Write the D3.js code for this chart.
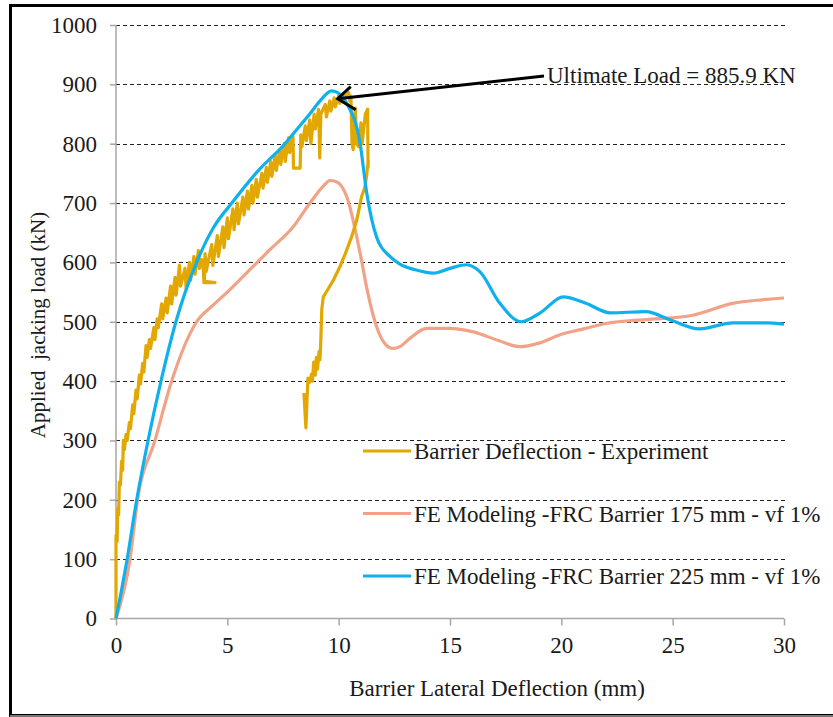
<!DOCTYPE html>
<html><head><meta charset="utf-8">
<script src="https://cdn.jsdelivr.net/npm/d3@7/dist/d3.min.js"></script>
<style>body{margin:0;background:#fff}svg{display:block}svg text{font-family:'Liberation Serif','Times New Roman',Times,'DejaVu Serif',serif !important;fill:#1a1a1a}</style>
</head><body>
<script>
// ---- data ----
const xTicks = [0,5,10,15,20,25,30];
const yTicks = [0,100,200,300,400,500,600,700,800,900,1000];
const seriesNames = ["Barrier Deflection - Experiment","FE Modeling -FRC Barrier 175 mm - vf 1%","FE Modeling -FRC Barrier 225 mm - vf 1%"];
const annotationText = "Ultimate Load = 885.9 KN";
const ultimate = [10.45, 886];
const expX = [0,0,0.05,0.08,0.12,0.15,0.2,0.25,0.3,0.33,0.38,0.45,0.5,0.6,0.65,0.75,0.8,0.9,0.95,1.05,1.1,1.2,1.25,1.35,1.4,1.5,1.55,1.7,1.75,1.85,1.9,2.05,2.1,2.25,2.3,2.45,2.5,2.65,2.7,2.85,2.9,3.0,3.1,3.15,3.3,3.35,3.5,3.55,3.7,3.75,3.85,3.9,3.95,4.45,3.97,4.0,4.05,4.3,4.35,4.55,4.6,4.8,4.85,5.0,5.05,5.25,5.3,5.45,5.5,5.7,5.75,5.9,5.95,6.1,6.15,6.3,6.35,6.55,6.6,6.75,6.8,6.95,7.0,7.15,7.2,7.35,7.4,7.55,7.6,7.75,7.8,7.95,7.97,8.27,8.3,8.35,8.5,8.55,8.7,8.75,8.9,8.95,9.1,9.15,9.2,9.4,9.45,9.6,9.65,9.8,9.85,10.0,10.05,10.2,10.3,10.45,10.5,10.55,10.6,10.65,10.75,10.8,10.9,11.0,11.05,11.2,11.3,11.32,11.33,11.25,11.18,11.03,10.81,10.58,10.3,10.06,9.76,9.46,9.31,9.24,9.2,9.16,9.12,9.05,9.0,8.95,8.88,8.82,8.78,8.7,8.62,8.58,8.53,8.5,8.44];
const expY = [0,140,130,185,175,230,225,265,250,300,285,310,300,330,320,360,345,385,370,410,395,430,415,460,440,470,455,490,470,505,490,530,505,540,515,560,530,575,545,595,560,575,590,555,600,570,610,580,620,590,605,600,566,566,568,615,585,630,595,645,610,660,625,675,640,690,655,700,665,710,680,720,690,730,700,740,710,750,725,760,735,770,745,780,755,790,765,800,770,810,785,812,759,759,815,795,830,805,840,800,850,825,858,776,850,866,845,872,855,877,862,881,868,884,878,886,872,880,800,790,860,800,795,835,800,850,858,760,772,745,727,711,671,643,615,593,570,551,542,520,470,436,450,420,440,410,432,400,412,398,405,370,321,340,380];
const fe175X = [0,0.63,0.97,1.75,2.5,3.62,4.36,5.0,5.7,6.9,7.96,8.71,9.3,9.61,9.9,10.36,10.96,11.3,11.7,12.1,12.45,12.75,13.2,13.95,15.0,16.05,17.2,18.14,19.0,19.94,21.0,22.0,23.96,25.9,27.7,29.0,30];
const fe175Y = [0,100,200,300,400,500,528,550,576,621,660,700,728,738,736,711,616,550,492,462,455,458,472,489,489,483,468,458,464,478,488,497,504,511,531,537,540];
const fe225X = [0,0.5,0.93,1.44,2.02,2.69,3.62,4.4,5.2,6.4,7.59,8.1,8.7,9.2,9.69,10.0,10.36,10.96,11.26,11.7,12.3,12.75,13.4,14.25,15.0,15.75,16.35,17.24,18.2,19.05,20.09,21.1,22.2,23.8,24.9,26.2,27.7,29.2,30];
const fe225Y = [0,100,200,300,400,500,600,660,700,755,800,823,850,874,889,885,868,801,717,643,610,597,588,582,590,596,584,531,500,515,542,531,515,517,503,488,498,498,496];
const colors = ["#E2A700","#F2A287","#10B0EC"];

// ---- layout ----
const FONT = "'Liberation Serif','Times New Roman',Times,serif";
const FS = 23;
const W = 833, H = 717;
const svg = d3.select("body").append("svg").attr("width", W).attr("height", H);
const x = d3.scaleLinear().domain([0,30]).range([116,784]);
const y = d3.scaleLinear().domain([0,1000]).range([618.5,25]);

// frame
svg.append("rect").attr("x",10.5).attr("y",5.5).attr("width",W).attr("height",710).attr("fill","none").attr("stroke","#000").attr("stroke-width",3);
svg.append("line").attr("x1",10).attr("x2",W).attr("y1",716).attr("y2",716).attr("stroke","#a0a0a0").attr("stroke-width",1.5);

// gridlines
svg.append("g").selectAll("line").data(yTicks.filter(d=>d>0)).join("line")
  .attr("x1",116).attr("x2",786).attr("y1",d=>Math.round(y(d))+0.5).attr("y2",d=>Math.round(y(d))+0.5)
  .attr("stroke","#222").attr("stroke-width",1).attr("stroke-dasharray","4,3");

// axes
const yAxis = d3.axisLeft(y).tickValues(yTicks).tickSize(6).tickPadding(13).tickFormat(d3.format("d"));
const gy = svg.append("g").attr("transform","translate(116,0)").call(yAxis);
const xAxis = d3.axisBottom(x).tickValues(xTicks).tickSize(7).tickPadding(11).tickFormat(d3.format("d"));
const gx = svg.append("g").attr("transform","translate(0,618.5)").call(xAxis);
[gx,gy].forEach(g=>{
  g.attr("font-family",FONT).attr("font-size",FS);
  g.select(".domain").attr("stroke","#a6a6a6").attr("stroke-width",1.5);
  g.selectAll(".tick line").attr("stroke","#a6a6a6").attr("stroke-width",1.5);
  g.selectAll(".tick text").attr("font-size",FS).attr("fill","#1a1a1a").attr("font-family",FONT);
});
gx.select(".domain").attr("d","M116,0H784");
gy.select(".domain").attr("d",`M0,${y(1000)}V${y(0)}`);

// series
const mk = (xs,ys)=>xs.map((v,i)=>[v,ys[i]]);
const lineLin = d3.line().x(d=>x(d[0])).y(d=>y(d[1]));
const lineSm = d3.line().x(d=>x(d[0])).y(d=>y(d[1])).curve(d3.curveMonotoneX);
svg.append("path").attr("d",lineSm(mk(fe175X,fe175Y))).attr("fill","none").attr("stroke",colors[1]).attr("stroke-width",3.2);
svg.append("path").attr("d",lineLin(mk(expX,expY))).attr("fill","none").attr("stroke",colors[0]).attr("stroke-width",3.2).attr("stroke-linejoin","round");
svg.append("path").attr("d",lineSm(mk(fe225X,fe225Y))).attr("fill","none").attr("stroke",colors[2]).attr("stroke-width",3.2);

// annotation
const tip = [x(ultimate[0])-11, y(ultimate[1])+6];
svg.append("line").attr("x1",544).attr("y1",76).attr("x2",tip[0]).attr("y2",tip[1]).attr("stroke","#000").attr("stroke-width",3);
svg.append("path").attr("d",`M${tip[0]+13},${tip[1]-12}L${tip[0]},${tip[1]}L${tip[0]+18},${tip[1]+11}`).attr("fill","none").attr("stroke","#000").attr("stroke-width",3);
svg.append("text").attr("x",547).attr("y",83).attr("font-size",FS).attr("font-family",FONT).text(annotationText);

// legend
const legY = [451,513.5,576];
const lg = svg.append("g");
seriesNames.forEach((n,i)=>{
  lg.append("line").attr("x1",363).attr("x2",411).attr("y1",legY[i]).attr("y2",legY[i]).attr("stroke",colors[i]).attr("stroke-width",3.2);
  lg.append("text").attr("x",414).attr("y",legY[i]+8).attr("font-size",FS).attr("font-family",FONT).text(n);
});

// axis titles
svg.append("text").attr("x",497).attr("y",696).attr("text-anchor","middle").attr("font-size",FS).attr("font-family",FONT).text("Barrier Lateral Deflection (mm)");
svg.append("text").attr("transform","translate(45,325) rotate(-90)").attr("text-anchor","middle").attr("font-size",21).attr("font-family",FONT).style("white-space","pre").text("Applied  jacking load (kN)");
</script>
</body></html>
